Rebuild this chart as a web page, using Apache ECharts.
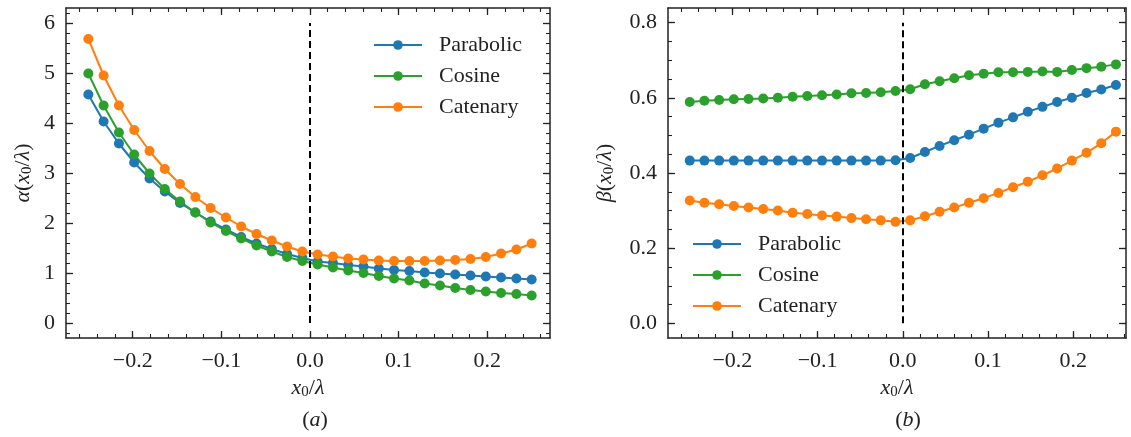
<!DOCTYPE html>
<html>
<head>
<meta charset="utf-8">
<script src="https://cdn.jsdelivr.net/npm/echarts@6/dist/echarts.min.js"></script>
<style>
	html, body { margin: 0; padding: 0; background: #fff; }
	#chart { width: 1131px; height: 437px; }
</style>
</head>
<body>
<div id="chart"></div>
<script>
	
	// x0/lambda sample positions (30 points, -0.25 .. 0.25)
	var xValues = [-0.25, -0.2328, -0.2155, -0.1983, -0.1810, -0.1638, -0.1466, -0.1293, -0.1121, -0.0948,
		-0.0776, -0.0603, -0.0431, -0.0259, -0.0086, 0.0086, 0.0259, 0.0431, 0.0603, 0.0776,
		0.0948, 0.1121, 0.1293, 0.1466, 0.1638, 0.1810, 0.1983, 0.2155, 0.2328, 0.25];
	
	var seriesNames = ["Parabolic", "Cosine", "Catenary"];
	
	// (a) alpha
	var alphaParabolic = [4.57, 4.03, 3.59, 3.21, 2.89, 2.63, 2.40, 2.21, 2.03, 1.87,
		1.72, 1.59, 1.48, 1.38, 1.30, 1.23, 1.20, 1.16, 1.13, 1.09,
		1.06, 1.04, 1.01, 0.99, 0.97, 0.95, 0.93, 0.91, 0.89, 0.87];
	var alphaCosine = [4.99, 4.35, 3.81, 3.37, 2.99, 2.68, 2.43, 2.21, 2.01, 1.84,
		1.69, 1.55, 1.43, 1.32, 1.24, 1.17, 1.11, 1.05, 1.00, 0.94,
		0.89, 0.85, 0.79, 0.75, 0.70, 0.66, 0.63, 0.60, 0.58, 0.55];
	var alphaCatenary = [5.68, 4.95, 4.35, 3.86, 3.44, 3.08, 2.78, 2.52, 2.30, 2.11,
		1.93, 1.78, 1.65, 1.53, 1.43, 1.37, 1.33, 1.29, 1.27, 1.25,
		1.24, 1.24, 1.24, 1.25, 1.26, 1.28, 1.32, 1.39, 1.47, 1.59];
	
	// (b) beta
	var betaParabolic = [0.433, 0.433, 0.433, 0.433, 0.433, 0.433, 0.433, 0.433, 0.433, 0.433,
		0.433, 0.433, 0.433, 0.433, 0.434, 0.440, 0.456, 0.472, 0.487, 0.502,
		0.518, 0.534, 0.548, 0.563, 0.576, 0.589, 0.600, 0.613, 0.622, 0.634];
	var betaCosine = [0.589, 0.592, 0.594, 0.596, 0.597, 0.598, 0.600, 0.603, 0.605, 0.607,
		0.609, 0.612, 0.613, 0.615, 0.618, 0.623, 0.636, 0.644, 0.652, 0.660,
		0.664, 0.668, 0.668, 0.669, 0.670, 0.669, 0.674, 0.679, 0.683, 0.689];
	var betaCatenary = [0.327, 0.321, 0.317, 0.312, 0.308, 0.304, 0.300, 0.294, 0.291, 0.287,
		0.284, 0.280, 0.277, 0.274, 0.270, 0.274, 0.285, 0.297, 0.308, 0.321,
		0.333, 0.347, 0.362, 0.377, 0.394, 0.412, 0.433, 0.454, 0.479, 0.510];
	
	// ticks
	var xMajorTicks = [-0.2, -0.1, 0, 0.1, 0.2];
	var xMinorTicks = [-0.26, -0.24, -0.22, -0.2, -0.18, -0.16, -0.14, -0.12, -0.1, -0.08, -0.06, -0.04, -0.02,
		0, 0.02, 0.04, 0.06, 0.08, 0.1, 0.12, 0.14, 0.16, 0.18, 0.2, 0.22, 0.24, 0.26];
	var alphaMajorTicks = [0, 1, 2, 3, 4, 5, 6];
	var alphaMinorTicks = [-0.2, 0, 0.2, 0.4, 0.6, 0.8, 1, 1.2, 1.4, 1.6, 1.8, 2, 2.2, 2.4, 2.6, 2.8, 3, 3.2, 3.4,
		3.6, 3.8, 4, 4.2, 4.4, 4.6, 4.8, 5, 5.2, 5.4, 5.6, 5.8, 6, 6.2];
	var betaMajorTicks = [0, 0.2, 0.4, 0.6, 0.8];
	var betaMinorTicks = [0, 0.05, 0.1, 0.15, 0.2, 0.25, 0.3, 0.35, 0.4, 0.45, 0.5, 0.55, 0.6, 0.65, 0.7, 0.75, 0.8];
	
	// dashed divider at x0 = 0
	var dividerX = 0;
	var alphaDividerSpan = [0, 6];
	var betaDividerSpan = [0, 0.8];
	
	var colors = ["#1f77b4", "#2ca02c", "#ff7f0e"];
	var FONT = "'Liberation Serif', 'DejaVu Serif', serif";
	var INK = "#222";
	
	function fmtX(v) {
		return (v < -1e-9 ? "\u2212" : "") + Math.abs(v).toFixed(1);
	}
	
	var rich = {
		i: { fontFamily: FONT, fontStyle: "italic", fontSize: 22, color: INK },
		s: { fontFamily: FONT, fontSize: 15, color: INK, padding: [8, 0, 0, 0] }
	};
	
	/*
	 * one side of the frame: major (with or without labels) + minor ticks
	 */
	function frameAxes(dim, g, pos, range, major, minor, labelled, fmt, name, nameGap) {
		
		var mainAxis = {
			gridIndex: g,
			type: "value",
			position: pos,
			min: range[0],
			max: range[1],
			splitLine: { show: false },
			axisLine: { show: true, onZero: false, lineStyle: { color: INK, width: 1.5 } },
			axisTick: { show: true, inside: true, length: 7, customValues: major, lineStyle: { color: INK, width: 1.3 } },
			axisLabel: labelled ? {
				show: true,
				customValues: major,
				formatter: fmt,
				margin: dim === "x" ? 12 : 11,
				fontFamily: FONT,
				fontSize: 22,
				color: INK
			} : { show: false }
		};
		
		if (name) {
			mainAxis.name = name;
			mainAxis.nameLocation = "middle";
			mainAxis.nameGap = nameGap;
			if (dim === "y") mainAxis.nameRotate = 90;
			mainAxis.nameTextStyle = { fontFamily: FONT, fontSize: 22, color: INK, rich: rich };
		}
		
		var minorAxis = {
			gridIndex: g,
			type: "value",
			position: pos,
			min: range[0],
			max: range[1],
			splitLine: { show: false },
			axisLine: { show: false, onZero: false },
			axisTick: { show: true, inside: true, length: 4, customValues: minor, lineStyle: { color: INK, width: 1.1 } },
			axisLabel: { show: false }
		};
		
		return [mainAxis, minorAxis];
		
	}
	
	var xRanges = [[-0.2752, 0.2707], [-0.2755, 0.2618]];
	var yRanges = [[-0.3, 6.3], [-0.039, 0.839]];
	
	var xAxes = [], yAxes = [];
	
	[0, 1].forEach(function(g) {
		
		var yMajor = g === 0 ? alphaMajorTicks : betaMajorTicks,
			yMinor = g === 0 ? alphaMinorTicks : betaMinorTicks,
			yFmt = g === 0 ? function(v) { return v.toFixed(0); } : function(v) { return v.toFixed(1); },
			yName = g === 0 ? "{i|\u03b1}({i|x}{s|0}/{i|\u03bb})" : "{i|\u03b2}({i|x}{s|0}/{i|\u03bb})";
		
		xAxes = xAxes.concat(
			frameAxes("x", g, "bottom", xRanges[g], xMajorTicks, xMinorTicks, true, fmtX, "{i|x}{s|0}/{i|\u03bb}", 34),
			frameAxes("x", g, "top", xRanges[g], xMajorTicks, xMinorTicks, false)
		);
		
		yAxes = yAxes.concat(
			frameAxes("y", g, "left", yRanges[g], yMajor, yMinor, true, yFmt, yName, g === 0 ? 31 : 51),
			frameAxes("y", g, "right", yRanges[g], yMajor, yMinor, false)
		);
		
	});
	
	function makeSeries(g, name, values, color, dividerSpan) {
		
		var s = {
			name: name,
			type: "line",
			xAxisIndex: g * 4,
			yAxisIndex: g * 4,
			data: xValues.map(function(x, i) { return [x, values[i]]; }),
			symbol: "circle",
			symbolSize: 10,
			showSymbol: true,
			color: color,
			lineStyle: { width: 2, color: color },
			itemStyle: { color: color },
			emphasis: { disabled: true }
		};
		
		if (dividerSpan) {
			s.markLine = {
				silent: true,
				symbol: ["none", "none"],
				label: { show: false },
				lineStyle: { color: "#000", type: [7, 4], width: 2 },
				data: [[{ coord: [dividerX, dividerSpan[0]] }, { coord: [dividerX, dividerSpan[1]] }]]
			};
		}
		
		return s;
		
	}
	
	var series = [
		makeSeries(0, seriesNames[0], alphaParabolic, colors[0], alphaDividerSpan),
		makeSeries(0, seriesNames[1], alphaCosine, colors[1]),
		makeSeries(0, seriesNames[2], alphaCatenary, colors[2]),
		makeSeries(1, seriesNames[0], betaParabolic, colors[0], betaDividerSpan),
		makeSeries(1, seriesNames[1], betaCosine, colors[1]),
		makeSeries(1, seriesNames[2], betaCatenary, colors[2])
	];
	
	function legendAt(left, top) {
		return {
			data: seriesNames,
			orient: "vertical",
			left: left,
			top: top,
			itemWidth: 48,
			itemHeight: 12,
			itemGap: 9,
			selectedMode: false,
			textStyle: { fontFamily: FONT, fontSize: 22, color: INK, lineHeight: 22, padding: [0, 0, 0, 12] }
		};
	}
	
	var chart = echarts.init(document.getElementById("chart"));
	
	chart.setOption({
		animation: false,
		backgroundColor: "#fff",
		title: [{
			text: "({a|a})",
			left: 310,
			top: 404,
			textAlign: "center",
			textStyle: { fontFamily: FONT, fontSize: 22, fontWeight: "normal", color: INK, rich: { a: rich.i } }
		}, {
			text: "({a|b})",
			left: 903,
			top: 404,
			textAlign: "center",
			textStyle: { fontFamily: FONT, fontSize: 22, fontWeight: "normal", color: INK, rich: { a: rich.i } }
		}],
		legend: [legendAt(368, 29), legendAt(687, 228)],
		grid: [
			{ left: 66, top: 8, width: 484, height: 330 },
			{ left: 668, top: 8, width: 458, height: 330 }
		],
		xAxis: xAxes,
		yAxis: yAxes,
		series: series
	});
	
</script>
</body>
</html>
